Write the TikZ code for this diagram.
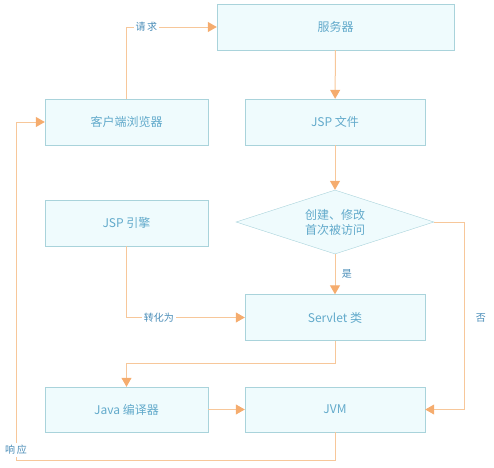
\documentclass[tikz,border=0pt]{standalone}
\usepackage{fontspec}
\setmainfont{Noto Sans CJK SC}
\usepackage{xcolor}
\usetikzlibrary{positioning,arrows.meta,shapes.geometric,calc}
\definecolor{boxfill}{HTML}{EFFBFD}
\definecolor{boxline}{HTML}{A9D3DB}
\definecolor{boxtext}{HTML}{62AACB}
\definecolor{flow}{HTML}{F7C79A}
\definecolor{flowtip}{HTML}{F5AC6E}
\definecolor{lbltext}{HTML}{4A8DB8}

\begin{document}
\begin{tikzpicture}[x=1pt,y=-1pt,
    box/.style={draw=boxline, fill=boxfill, text=boxtext, inner sep=0pt,
                font=\fontsize{12}{14}\selectfont, minimum height=46pt},
    leftbox/.style={box, minimum width=163pt},
    rightbox/.style={box, minimum width=180pt},
    check/.style={box, diamond, aspect=3.1, minimum width=198pt, minimum height=64pt,
                  align=center, font=\fontsize{12}{15}\selectfont},
    lbl/.style={fill=white, text=lbltext, inner sep=2pt, font=\fontsize{10}{12}\selectfont}
  ]
  \useasboundingbox (0,0) rectangle (494,467);

  \node[box, minimum width=237pt] (server) at (335.5,27) {服务器};
  \node[leftbox]  (client)  at (126.5,122) {客户端浏览器};
  \node[rightbox] (jspfile) at (335,122)   {JSP 文件};
  \node[check]    (visit)   at (335,222)   {创建、修改\\首次被访问};
  \node[leftbox]  (engine)  at (126.5,223) {JSP 引擎};
  \node[rightbox] (servlet) at (335,317.5) {Servlet 类};
  \node[leftbox, minimum height=45pt]  (javac) at (126.5,409.5) {Java 编译器};
  \node[rightbox, minimum height=45pt] (jvm)   at (335,409.5)   {JVM};

  \coordinate (notvisit) at (464,222);
  \coordinate (reply) at (16,460);

  \begin{scope}[draw=flow, line width=1pt, -{Triangle[width=10pt,length=9pt,color=flowtip]}]
  \draw (client.north) |- node[lbl, pos=0.61] {请\,求} (server.west);
  \draw (server) -- (jspfile);
  \draw (jspfile) -- (visit);
  \draw (visit.south) -- node[right, text=lbltext, xshift=3pt,
        font=\fontsize{10}{12}\selectfont] {是} (servlet.north);
  \draw (engine.south) |- node[lbl, pos=0.637] {转化为} (servlet.west);
  \draw (servlet.south) -- ++(0,23) -| (javac.north);
  \draw (javac) -- (jvm);
  \draw (visit.east) -- (notvisit) |- node[right, pos=0.256, text=lbltext, xshift=8pt,
        font=\fontsize{10}{12}\selectfont] {否} (jvm.east);
  \draw (jvm.south) |- (reply) |- node[lbl, pos=0.015] {响\,应} (client.west);
  \end{scope}
\end{tikzpicture}
\end{document}
